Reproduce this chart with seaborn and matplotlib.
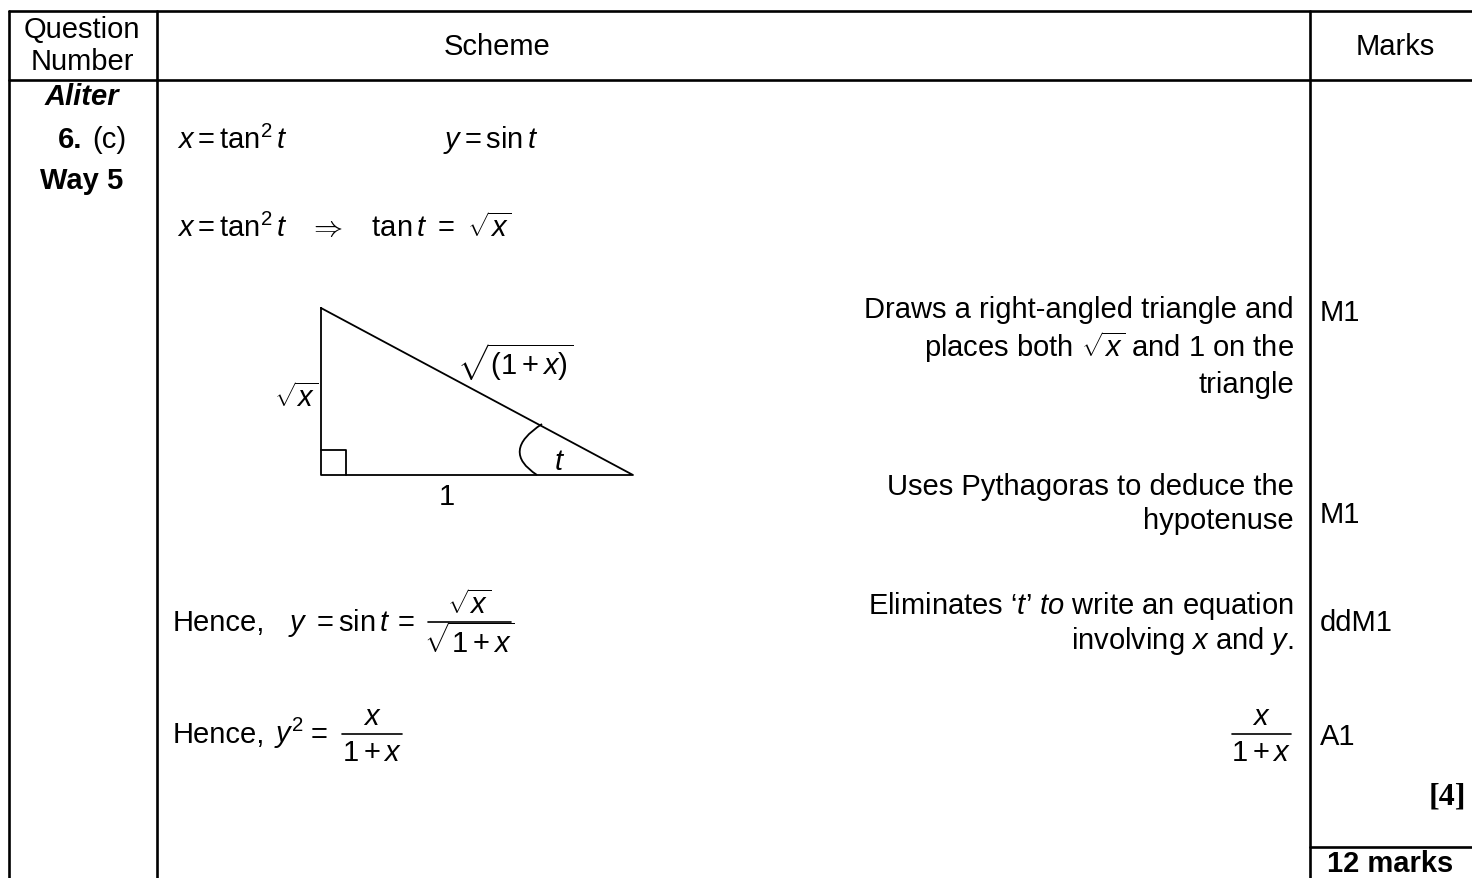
import matplotlib
matplotlib.use("Agg")
import matplotlib.pyplot as plt
import seaborn as sns
import pandas as pd
from matplotlib.path import Path
from matplotlib.patches import PathPatch

#table content
header_labels = ["Question", "Number", "Scheme", "Marks"]
question_lines = ["Aliter", "Way 5"]
scheme_lines = [r"$x = \mathrm{tan}^2\, t$",
                r"$y = \mathrm{sin}\,t$",
                r"$x = \mathrm{tan}^2\, t \quad \Rightarrow \quad \mathrm{tan}\,t\ =\ \sqrt{x}$"]
hence_one = ["Hence,", r"$y$", "=", r"$\mathrm{sin}\,t$", "="]
hence_one_x = [173, 288, 317, 338, 398]
hence_two = ["Hence,", r"$y^2$", "="]
hence_two_x = [173, 274, 311]
fraction_parts = [(r"$\sqrt{x}$", r"$\sqrt{1+x}$"), (r"$x$", r"$1+x$"), (r"$x$", r"$1+x$")]
note_lines = ["Draws a right-angled triangle and",
              r"places both $\sqrt{x}$ and 1 on the",
              "triangle",
              "Uses Pythagoras to deduce the",
              "hypotenuse",
              r"Eliminates ‘$t$’ $to$ write an equation",
              r"involving $x$ and $y$."]
mark_labels = ["M1", "M1", "ddM1", "A1"]
total_label = "[4]"
grand_total = "12 marks"

#triangle diagram
tri_x = [321, 321, 633, 321]
tri_y = [309, 476, 476, 309]
tri_labels = [r"$\sqrt{x}$", r"$\sqrt{(1+x)}$", "1", r"$t$"]

sns.set_theme(style = "white")
plt.rcParams["font.family"] = ["Liberation Sans", "DejaVu Sans"]
plt.rcParams["text.color"] = "black"
plt.rcParams["mathtext.fontset"] = "custom"
plt.rcParams["mathtext.rm"] = "Liberation Sans"
plt.rcParams["mathtext.it"] = "Liberation Sans:italic"
plt.rcParams["mathtext.bf"] = "Liberation Sans:bold"

fs = 21

fig = plt.figure(figsize = (14.72, 8.79), dpi = 100)
ax = fig.add_axes([0, 0, 1, 1])
ax.set_xlim(0, 1472)
ax.set_ylim(879, 0)
ax.axis("off")

def fraction(x0, x1, y, num, den):
	xc = (x0 + x1) / 2
	ax.plot([x0, x1], [y, y], color = "black", lw = 1.2)
	ax.text(xc, y - 18, num, ha = "center", va = "center", fontsize = fs)
	ax.text(xc, y + 18, den, ha = "center", va = "center", fontsize = fs)

#---
#grid lines
lw = 1.9
ax.plot([9, 1472], [12, 12], color = "black", lw = lw)
ax.plot([9, 1472], [81, 81], color = "black", lw = lw)
for xv in [9, 157, 1310]:
	ax.plot([xv, xv], [12, 879], color = "black", lw = lw)
ax.plot([1310, 1472], [848, 848], color = "black", lw = lw)
#---

#---
#header
ax.text(82, 30, header_labels[0], ha = "center", va = "center", fontsize = fs)
ax.text(82, 62, header_labels[1], ha = "center", va = "center", fontsize = fs)
ax.text(497, 47, header_labels[2], ha = "center", va = "center", fontsize = fs)
ax.text(1395, 47, header_labels[3], ha = "center", va = "center", fontsize = fs)
#---

#---
#question column
ax.text(82, 97, question_lines[0], ha = "center", va = "center", fontsize = fs, fontweight = "bold", fontstyle = "italic")
ax.text(82, 140, "6.", ha = "right", va = "center", fontsize = fs, fontweight = "bold")
ax.text(92, 140, "(c)", ha = "left", va = "center", fontsize = fs)
ax.text(82, 181, question_lines[1], ha = "center", va = "center", fontsize = fs, fontweight = "bold")
#---

#---
#scheme column
ax.text(177, 140, scheme_lines[0], ha = "left", va = "center", fontsize = fs)
ax.text(443, 140, scheme_lines[1], ha = "left", va = "center", fontsize = fs)
ax.text(177, 228, scheme_lines[2], ha = "left", va = "center", fontsize = fs)
for txt, xv in zip(hence_one, hence_one_x):
	ax.text(xv, 631, txt, ha = "left", va = "baseline", fontsize = fs)
fraction(428, 511, 623, *fraction_parts[0])
for txt, xv in zip(hence_two, hence_two_x):
	ax.text(xv, 743, txt, ha = "left", va = "baseline", fontsize = fs)
fraction(342, 402, 735, *fraction_parts[1])

tri_df = pd.DataFrame({"x": tri_x, "y": tri_y})
sns.lineplot(data = tri_df, x = "x", y = "y", sort = False, color = "black", lw = 1.3, ax = ax, estimator = None)
ax.plot([321, 346, 346], [451, 451, 476], color = "black", lw = 1.3)
arc = Path([(537, 476), (500, 452), (542, 425)], [Path.MOVETO, Path.CURVE3, Path.CURVE3])
ax.add_patch(PathPatch(arc, fill = False, color = "black", lw = 1.3))
ax.text(296, 398, tri_labels[0], ha = "center", va = "center", fontsize = fs)
ax.text(515, 362, tri_labels[1], ha = "center", va = "center", fontsize = fs)
ax.text(447, 497, tri_labels[2], ha = "center", va = "center", fontsize = fs)
ax.text(560, 462, tri_labels[3], ha = "center", va = "center", fontsize = fs)
ax.set_xlabel("")
ax.set_ylabel("")
#---

#---
#notes
note_y = [310, 347, 385, 487, 521, 606, 641]
for txt, yv in zip(note_lines, note_y):
	ax.text(1294, yv, txt, ha = "right", va = "center", fontsize = fs)
fraction(1232, 1291, 735, *fraction_parts[2])
#---

#---
#marks column
mark_y = [313, 515, 623, 737]
for txt, yv in zip(mark_labels, mark_y):
	ax.text(1320, yv, txt, ha = "left", va = "center", fontsize = fs)
ax.text(1466, 797, total_label, ha = "right", va = "center", fontsize = fs + 2, fontweight = "bold", family = ["Liberation Serif"])
ax.text(1390, 864, grand_total, ha = "center", va = "center", fontsize = fs, fontweight = "bold")
#---

plt.savefig("out.png", dpi = 100)
